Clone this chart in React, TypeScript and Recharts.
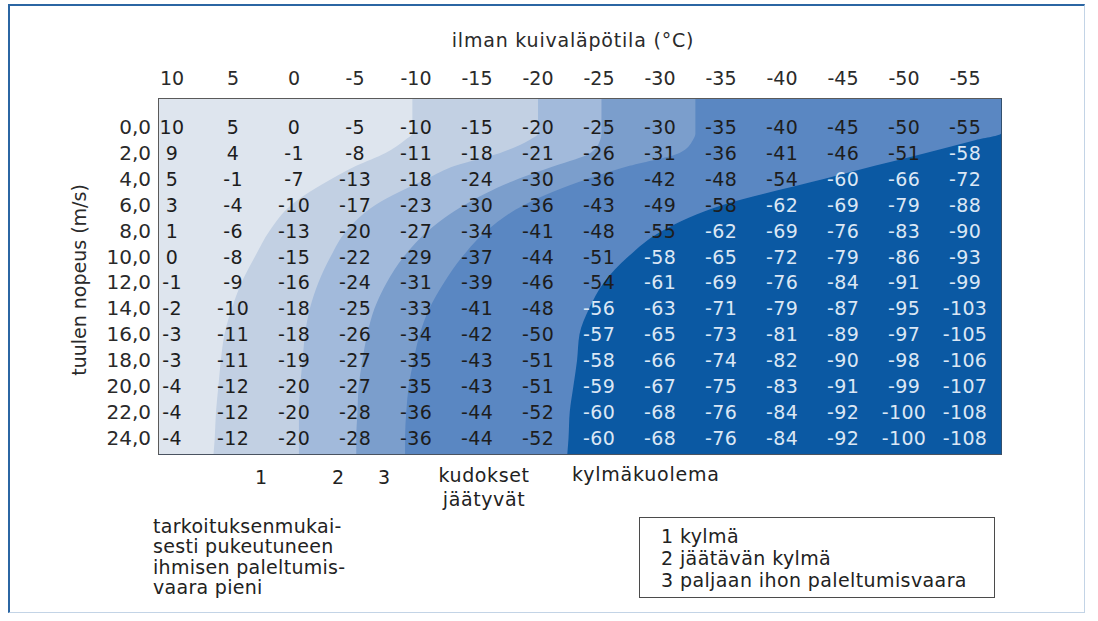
import React from 'react';
import { ComposedChart, Area, Scatter, XAxis, YAxis, CartesianGrid, Label } from 'recharts';

// ---------- data ----------
const tempColumns = [10, 5, 0, -5, -10, -15, -20, -25, -30, -35, -40, -45, -50, -55];
const windRows = [0, 2, 4, 6, 8, 10, 12, 14, 16, 18, 20, 22, 24];

const chill00 = [10, 5, 0, -5, -10, -15, -20, -25, -30, -35, -40, -45, -50, -55];
const chill02 = [9, 4, -1, -8, -11, -18, -21, -26, -31, -36, -41, -46, -51, -58];
const chill04 = [5, -1, -7, -13, -18, -24, -30, -36, -42, -48, -54, -60, -66, -72];
const chill06 = [3, -4, -10, -17, -23, -30, -36, -43, -49, -58, -62, -69, -79, -88];
const chill08 = [1, -6, -13, -20, -27, -34, -41, -48, -55, -62, -69, -76, -83, -90];
const chill10 = [0, -8, -15, -22, -29, -37, -44, -51, -58, -65, -72, -79, -86, -93];
const chill12 = [-1, -9, -16, -24, -31, -39, -46, -54, -61, -69, -76, -84, -91, -99];
const chill14 = [-2, -10, -18, -25, -33, -41, -48, -56, -63, -71, -79, -87, -95, -103];
const chill16 = [-3, -11, -18, -26, -34, -42, -50, -57, -65, -73, -81, -89, -97, -105];
const chill18 = [-3, -11, -19, -27, -35, -43, -51, -58, -66, -74, -82, -90, -98, -106];
const chill20 = [-4, -12, -20, -27, -35, -43, -51, -59, -67, -75, -83, -91, -99, -107];
const chill22 = [-4, -12, -20, -28, -36, -44, -52, -60, -68, -76, -84, -92, -100, -108];
const chill24 = [-4, -12, -20, -28, -36, -44, -52, -60, -68, -76, -84, -92, -100, -108];
const chillTable = [chill00, chill02, chill04, chill06, chill08, chill10, chill12, chill14, chill16, chill18, chill20, chill22, chill24];

// zone boundaries: air temperature of each boundary at the given wind speeds
const zoneWind = [-2.16, 0, 0.5, 1, 2, 3, 4, 6, 8, 10, 12, 14, 16, 18, 20, 22, 24, 25.24];
const edgeCold = [-9.7, -9.7, -9.7, -9.1, -7.5, -5.1, -3.1, 0.2, 2.0, 3.2, 4.3, 5.1, 5.7, 6.0, 6.2, 6.4, 6.5, 6.6];
const edgeFreezing = [-20.0, -20.0, -20.0, -19.3, -16.9, -13.2, -10.9, -6.7, -4.3, -3.0, -2.0, -1.3, -0.9, -0.7, -0.5, -0.4, -0.4, -0.4];
const edgeSkin = [-25.2, -25.2, -25.2, -25.1, -24.3, -21.4, -18.4, -14.0, -11.0, -9.0, -7.6, -6.6, -6.0, -5.6, -5.3, -5.2, -5.1, -5.1];
const edgeTissue = [-32.9, -32.9, -32.9, -32.7, -31.6, -27.5, -24.1, -18.9, -15.8, -13.8, -12.3, -11.1, -10.3, -9.8, -9.4, -9.2, -9.1, -9.1];
const edgeDeath = [-57.95, -57.95, -57.95, -55.9, -51.8, -47.6, -43.5, -35.2, -30.2, -27.4, -25.4, -24.2, -23.4, -23.2, -22.9, -22.6, -22.5, -22.4];

const X_DOMAIN: [number, number] = [-57.95, 11.07];
const Y_DOMAIN: [number, number] = [-2.16, 25.24];

const ZONE_COLORS = ['#dee5ee', '#c2d0e3', '#a2badb', '#7b9ecc', '#5a87c2', '#0b59a3'];

const zoneData = zoneWind.map((w, i) => ({
  wind: w,
  cold: edgeCold[i],
  freezing: edgeFreezing[i],
  skin: edgeSkin[i],
  tissue: edgeTissue[i],
  death: edgeDeath[i],
}));

const cellData = windRows.flatMap((w, r) =>
  tempColumns.map((t, c) => ({
    wind: w,
    temp: t,
    value: chillTable[r][c],
    deep: t < edgeDeath[zoneWind.indexOf(w)],
  }))
);

const FONT = "'DejaVu Sans', 'Liberation Sans', sans-serif";
const INK = '#222222';

const CellText = (props: any) => {
  const { cx, cy, payload } = props;
  if (cx == null || cy == null) return null;
  return (
    <text
      x={cx}
      y={cy}
      textAnchor="middle"
      dominantBaseline="central"
      fontFamily={FONT}
      fontSize={19}
      letterSpacing={0.4}
      fill={payload.deep ? '#dbe7f5' : '#1d1d1d'}
    >
      {String(payload.value)}
    </text>
  );
};

const TempTick = (props: any) => (
  <text x={props.x} y={props.y} textAnchor="middle" dominantBaseline="central" fontFamily={FONT} fontSize={19} fill="#2a2a2a">
    {String(props.payload.value)}
  </text>
);

const WindTick = (props: any) => (
  <text x={props.x} y={props.y} textAnchor="end" dominantBaseline="central" fontFamily={FONT} fontSize={20} fill="#2a2a2a">
    {Number(props.payload.value).toFixed(1).replace('.', ',')}
  </text>
);

export default function App() {
  return (
    <div style={{ position: 'absolute', left: 8, top: 4, width: 1077, height: 609, background: '#ffffff', fontFamily: FONT, color: INK }}>
      <ComposedChart
        width={1077}
        height={609}
        layout="vertical"
        data={zoneData}
        margin={{ top: 65, right: 84, bottom: 159, left: 91 }}
      >
        <CartesianGrid horizontal={false} vertical={false} fill={ZONE_COLORS[5]} fillOpacity={1} />
        <Area type="monotone" dataKey="death" baseValue="dataMax" stroke="none" fill={ZONE_COLORS[4]} fillOpacity={1} dot={false} activeDot={false} isAnimationActive={false} />
        <Area type="monotone" dataKey="tissue" baseValue="dataMax" stroke="none" fill={ZONE_COLORS[3]} fillOpacity={1} dot={false} activeDot={false} isAnimationActive={false} />
        <Area type="monotone" dataKey="skin" baseValue="dataMax" stroke="none" fill={ZONE_COLORS[2]} fillOpacity={1} dot={false} activeDot={false} isAnimationActive={false} />
        <Area type="monotone" dataKey="freezing" baseValue="dataMax" stroke="none" fill={ZONE_COLORS[1]} fillOpacity={1} dot={false} activeDot={false} isAnimationActive={false} />
        <Area type="monotone" dataKey="cold" baseValue="dataMax" stroke="none" fill={ZONE_COLORS[0]} fillOpacity={1} dot={false} activeDot={false} isAnimationActive={false} />
        <Scatter data={cellData} shape={(p: any) => <CellText {...p} />} isAnimationActive={false} />
        <XAxis
          type="number"
          dataKey="temp"
          orientation="top"
          domain={X_DOMAIN}
          allowDataOverflow
          reversed
          ticks={tempColumns}
          interval={0}
          height={30}
          tickSize={6}
          tickMargin={15}
          tickLine={false}
          axisLine={false}
          tick={TempTick}
        >
          <Label
            content={() => (
              <text x={565} y={36} textAnchor="middle" dominantBaseline="central" fontFamily={FONT} fontSize={19} letterSpacing={0.8} fill="#2a2a2a">
                ilman kuivaläpötila (°C)
              </text>
            )}
          />
        </XAxis>
        <YAxis
          type="number"
          dataKey="wind"
          domain={Y_DOMAIN}
          allowDataOverflow
          ticks={windRows}
          interval={0}
          width={60}
          tickSize={6}
          tickMargin={2}
          tickLine={false}
          axisLine={false}
          tick={WindTick}
        >
          <Label
            content={() => (
              <text
                x={71}
                y={276}
                transform="rotate(-90 71 276)"
                textAnchor="middle"
                dominantBaseline="central"
                fontFamily={FONT}
                fontSize={19}
                fill="#2a2a2a"
              >
                tuulen nopeus (m/s)
              </text>
            )}
          />
        </YAxis>
      </ComposedChart>

      {/* table border around the plot area */}
      <div
        style={{
          position: 'absolute',
          left: 150,
          top: 94,
          width: 844,
          height: 357,
          boxSizing: 'border-box',
          borderLeft: '1.6px solid #5a5a5a',
          borderTop: '1.6px solid #5a5a5a',
          borderBottom: '1.6px solid #4a5360',
          borderRight: '1.6px solid #33506e',
          pointerEvents: 'none',
        }}
      />

      {/* zone markers under the table */}
      <div style={{ position: 'absolute', left: 233, top: 462, width: 40, textAlign: 'center', fontSize: 19, lineHeight: '22px' }}>1</div>
      <div style={{ position: 'absolute', left: 310, top: 462, width: 40, textAlign: 'center', fontSize: 19, lineHeight: '22px' }}>2</div>
      <div style={{ position: 'absolute', left: 356, top: 462, width: 40, textAlign: 'center', fontSize: 19, lineHeight: '22px' }}>3</div>
      <div style={{ position: 'absolute', left: 406, top: 459, width: 140, textAlign: 'center', fontSize: 19, lineHeight: '24px', letterSpacing: 0.6 }}>
        kudokset
        <br />
        jäätyvät
      </div>
      <div style={{ position: 'absolute', left: 564, top: 459, fontSize: 19, lineHeight: '22px', letterSpacing: 0.8, whiteSpace: 'nowrap' }}>kylmäkuolema</div>

      <div style={{ position: 'absolute', left: 145, top: 512, fontSize: 19, lineHeight: '20.3px', letterSpacing: 0.3, whiteSpace: 'nowrap' }}>
        tarkoituksenmukai-
        <br />
        sesti pukeutuneen
        <br />
        ihmisen paleltumis-
        <br />
        vaara pieni
      </div>

      <div
        style={{
          position: 'absolute',
          left: 631,
          top: 513,
          width: 356,
          height: 81,
          boxSizing: 'border-box',
          border: '1.5px solid #4b4b4b',
          paddingLeft: 21,
          paddingTop: 7,
          fontSize: 19,
          lineHeight: '22px',
          letterSpacing: 0.4,
          whiteSpace: 'nowrap',
        }}
      >
        1 kylmä
        <br />
        2 jäätävän kylmä
        <br />
        3 paljaan ihon paleltumisvaara
      </div>

      {/* outer frame */}
      <div
        style={{
          position: 'absolute',
          left: 0,
          top: 0,
          width: 1077,
          height: 609,
          boxSizing: 'border-box',
          borderLeft: '2px solid #2b66a3',
          borderTop: '2px solid #2b66a3',
          borderRight: '1px solid #c3d4e6',
          borderBottom: '1px solid #c3d4e6',
          pointerEvents: 'none',
        }}
      />
    </div>
  );
}
